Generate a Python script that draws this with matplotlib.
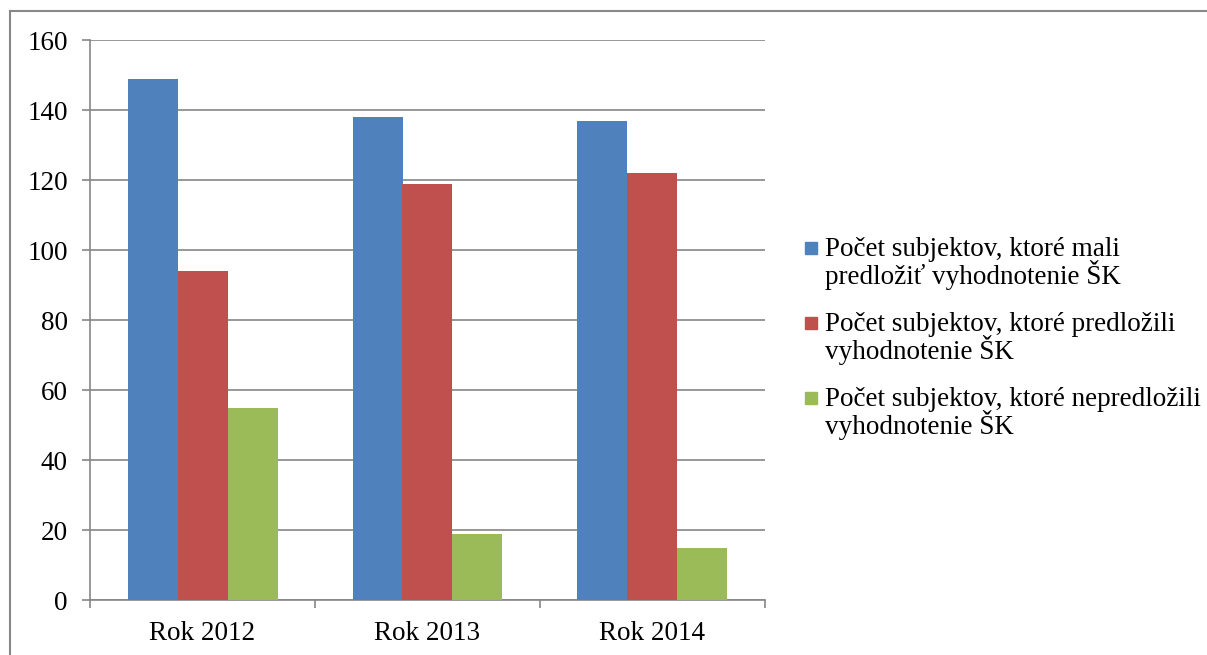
import matplotlib.pyplot as plt
import matplotlib.patches as mpatches
from matplotlib.lines import Line2D
import numpy as np

categories = ['Rok 2012', 'Rok 2013', 'Rok 2014']
series_labels = [
    'Počet subjektov, ktoré mali\npredložiť vyhodnotenie ŠK',
    'Počet subjektov, ktoré predložili\nvyhodnotenie ŠK',
    'Počet subjektov, ktoré nepredložili\nvyhodnotenie ŠK',
]
mali = [149, 138, 137]
predlozili = [94, 119, 122]
nepredlozili = [55, 19, 15]
colors = ['#4F81BD', '#C0504D', '#9BBB59']

plt.rcParams['font.family'] = ['Liberation Serif', 'DejaVu Serif']

W, H = 1207, 655
fig = plt.figure(figsize=(W / 100, H / 100), dpi=100)
ax = fig.add_axes([90 / W, 55 / H, 675 / W, 560 / H])

x = np.arange(len(categories))
bw = 2 / 9
values = [mali, predlozili, nepredlozili]
for i, (vals, c) in enumerate(zip(values, colors)):
    ax.bar(x + (i - 1) * bw, vals, width=bw, color=c, zorder=3)

ax.set_xlim(-0.5, len(categories) - 0.5)
ax.set_ylim(0, 160)
ax.set_yticks(range(0, 161, 20))
ax.yaxis.grid(True, color='#868686', linewidth=1.2, zorder=0)
ax.set_axisbelow(True)

for s in ['top', 'right']:
    ax.spines[s].set_visible(False)
for s in ['left', 'bottom']:
    ax.spines[s].set_color('#868686')
    ax.spines[s].set_linewidth(1.2)

ax.set_xticks(np.arange(-0.5, len(categories)), labels=[])
ax.set_xticks(x, labels=categories, minor=True)
ax.tick_params(axis='x', which='major', length=6, width=1.2, color='#868686')
ax.tick_params(axis='x', which='minor', length=0, pad=15, labelsize=19.5)
ax.tick_params(axis='y', length=6, width=1.2, color='#868686', pad=10, labelsize=19.5)

# legend drawn by hand so the square sits on the first line
for i, (lab, c) in enumerate(zip(series_labels, colors)):
    base = 256 + i * 75
    fig.add_artist(mpatches.Rectangle((805 / W, 1 - (base - 2) / H), 12 / W, 12 / H,
                                      transform=fig.transFigure, color=c))
    for j, line in enumerate(lab.split('\n')):
        fig.text(825 / W, 1 - (base + j * 28) / H, line, fontsize=19.5,
                 va='baseline', ha='left')

# outer frame (left and top edges visible)
fig.add_artist(Line2D([10 / W, 10 / W], [0, 1 - 11 / H], transform=fig.transFigure,
                      color='#888888', linewidth=1.5))
fig.add_artist(Line2D([10 / W, 1], [1 - 11 / H, 1 - 11 / H], transform=fig.transFigure,
                      color='#888888', linewidth=1.5))

fig.savefig('out.png', dpi=100)
